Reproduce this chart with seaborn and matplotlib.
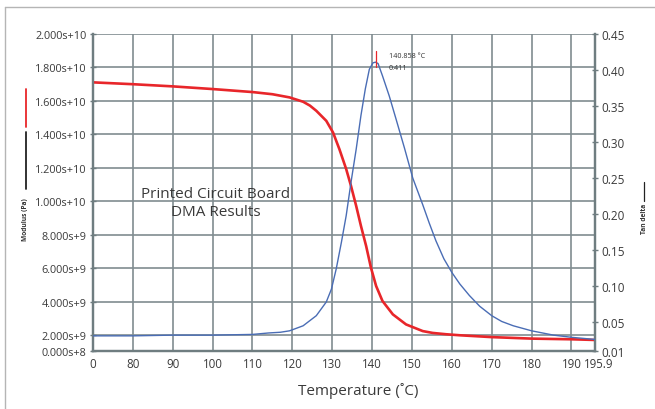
import matplotlib
matplotlib.use("Agg")
import matplotlib.pyplot as plt
from matplotlib.lines import Line2D
import seaborn as sns
import pandas as pd

# storage modulus (Pa), left axis
mod_temp = [70, 80, 90, 100, 110, 115, 119.3, 122.7, 124.4, 126, 128.5, 130.2, 131.8,
            133.5, 134.7, 136, 137.2, 138.5, 139.7, 141, 142.6, 145.2, 148.5, 152.7,
            155.2, 158.6, 162, 170, 180, 190, 195.9]
modulus = [1.711e10, 1.700e10, 1.687e10, 1.671e10, 1.653e10, 1.640e10, 1.621e10,
           1.595e10, 1.572e10, 1.541e10, 1.481e10, 1.411e10, 1.311e10, 1.192e10,
           1.092e10, 9.72e9, 8.52e9, 7.32e9, 6.03e9, 4.93e9, 4.03e9, 3.23e9, 2.63e9,
           2.23e9, 2.12e9, 2.04e9, 1.98e9, 1.87e9, 1.78e9, 1.74e9, 1.70e9]

# tan delta, right axis
tan_temp = [70, 80, 90, 100, 110, 114, 117, 119.3, 122.7, 126, 128.5, 129.8, 131, 132.3,
            133.5, 134.7, 136, 137.2, 138.3, 139.3, 140.2, 140.858, 141.5, 142.6, 144.3,
            146, 148.1, 150.2, 152.7, 154.3, 156, 158, 160, 162, 164.4, 167, 170, 172.5,
            175.4, 180, 185.5, 190, 195.9]
tan_delta = [0.031, 0.031, 0.032, 0.032, 0.033, 0.035, 0.036, 0.038, 0.045, 0.059, 0.078,
             0.096, 0.124, 0.161, 0.198, 0.244, 0.290, 0.337, 0.374, 0.401, 0.410, 0.411,
             0.409, 0.392, 0.364, 0.332, 0.292, 0.250, 0.213, 0.188, 0.163, 0.138, 0.119,
             0.103, 0.087, 0.072, 0.059, 0.051, 0.045, 0.038, 0.032, 0.029, 0.026]

x_ticks = [70, 80, 90, 100, 110, 120, 130, 140, 150, 160, 170, 180, 190, 195.9]
x_labels = ['0', '80', '90', '100', '110', '120', '130', '140', '150', '160', '170',
            '180', '190', '195.9']
left_ticks = [1.04e9, 2e9, 4e9, 6e9, 8e9, 1e10, 1.2e10, 1.4e10, 1.6e10, 1.8e10, 2e10]
left_labels = ['0.000s+8', '2.000s+9', '4.000s+9', '6.000s+9', '8.000s+9', '1.000s+10',
               '1.200s+10', '1.400s+10', '1.600s+10', '1.800s+10', '2.000s+10']
right_ticks = [0.01, 0.05, 0.10, 0.15, 0.20, 0.25, 0.30, 0.35, 0.40, 0.45]
right_labels = ['0.01', '0.05', '0.10', '0.15', '0.20', '0.25', '0.30', '0.35', '0.40', '0.45']

sns.set_style('white')
plt.rcParams['font.family'] = ['Open Sans', 'DejaVu Sans']

txt = '#3a3a3a'
grid_c = '#808c90'
spine_c = '#6f7d80'

fig = plt.figure(figsize=(6.55, 4.10), dpi=100)
ax = fig.add_axes([0.142, 0.1415, 0.7664, 0.773])
ax2 = ax.twinx()

df_mod = pd.DataFrame({'t': mod_temp, 'v': modulus})
df_tan = pd.DataFrame({'t': tan_temp, 'v': tan_delta})

sns.lineplot(data=df_mod, x='t', y='v', ax=ax, color='#e8262a', lw=1.9, zorder=3)
sns.lineplot(data=df_tan, x='t', y='v', ax=ax2, color='#4a6db5', lw=1.0, zorder=3)

ax.set_xlim(70, 195.9)
ax.set_ylim(1.04e9, 2e10)
ax2.set_ylim(0.01, 0.45)

# last label drawn separately, a little to the right, so it clears "190"
ax.set_xticks(x_ticks)
ax.set_xticklabels(x_labels[:-1] + [''], fontsize=8.3, color=txt)
ax.annotate(x_labels[-1], xy=(x_ticks[-1], 0), xycoords=('data', 'axes fraction'),
            xytext=(3, -4.5), textcoords='offset points', ha='center', va='top',
            fontsize=8.3, color=txt)
ax.set_yticks(left_ticks)
ax.set_yticklabels(left_labels, fontsize=7.8, color=txt)
ax2.set_yticks(right_ticks)
ax2.set_yticklabels(right_labels, fontsize=8.5, color=txt)

for a in (ax, ax2):
    a.tick_params(direction='inout', length=5, width=1, color=spine_c, pad=2)
    a.set_xlabel('')
    a.set_ylabel('')
    for s in a.spines.values():
        s.set_color(spine_c)
        s.set_linewidth(1.6)
    a.spines['top'].set_visible(False)

ax.grid(True, color=grid_c, lw=1.2)
ax.set_axisbelow(True)

ax.set_xlabel('Temperature (\u02daC)', fontsize=11, color=txt, va='top')
ax.xaxis.set_label_coords(0.528, -0.098)

# peak marker
ax2.plot([140.858, 140.858], [0.404, 0.427], color='#e8262a', lw=0.9, zorder=4)
ax2.text(144.2, 0.42, '140.858 \u00b0C', fontsize=5.2, color='#333333', va='center')
ax2.text(144.2, 0.404, '0.411', fontsize=5.2, color='#333333', va='center')

ax.text(100.7, 9.94e9, 'Printed Circuit Board\nDMA Results', fontsize=11,
        color=txt, ha='center', va='center', linespacing=1.25)

# axis titles
fig.text(26 / 655, 1 - 220 / 410, 'Modulus (Pa)', rotation=90, fontsize=4.8,
         fontweight='bold', color='#333333', ha='center', va='center')
fig.add_artist(Line2D([26 / 655, 26 / 655], [1 - 90 / 410, 1 - 128 / 410],
                      color='#e8262a', lw=1.3))
fig.add_artist(Line2D([26 / 655, 26 / 655], [1 - 133 / 410, 1 - 190 / 410],
                      color='#222222', lw=1.3))
fig.text(644 / 655, 1 - 219 / 410, 'Tan delta', rotation=90, fontsize=4.8,
         fontweight='bold', color='#333333', ha='center', va='center')
fig.add_artist(Line2D([644 / 655, 644 / 655], [1 - 183 / 410, 1 - 202 / 410],
                      color='#222222', lw=0.9))

# outer frame
fig.add_artist(Line2D([5 / 655, 5 / 655], [0, 1 - 8 / 410], color='#b5b5b5', lw=1))
fig.add_artist(Line2D([5 / 655, 1], [1 - 8 / 410, 1 - 8 / 410], color='#b5b5b5', lw=1))

plt.savefig('out.png', dpi=100)
